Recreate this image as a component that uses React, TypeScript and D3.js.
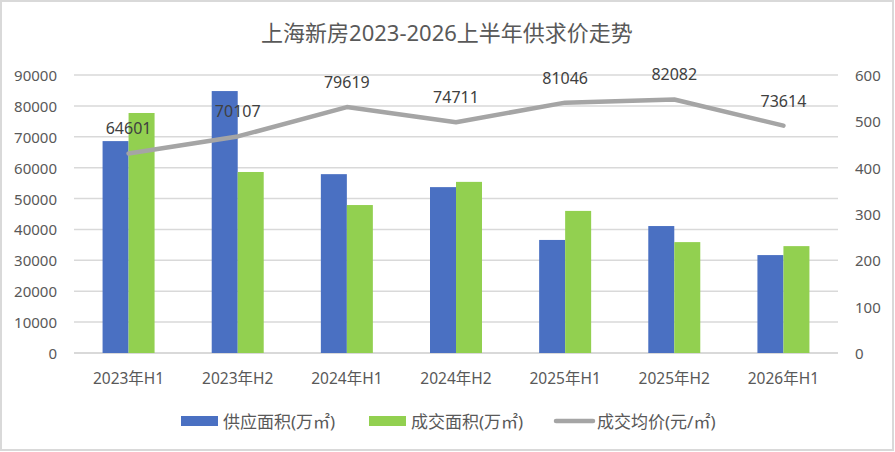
import * as d3 from 'd3';

const CATEGORIES = ['2023年H1', '2023年H2', '2024年H1', '2024年H2', '2025年H1', '2025年H2', '2026年H1'];
const SUPPLY = [68600, 84800, 57900, 53700, 36600, 41100, 31700];
const DEAL = [77700, 58600, 47900, 55400, 46000, 35900, 34600];
const PRICE = [64601, 70107, 79619, 74711, 81046, 82082, 73614];
const LEFT_TICKS = [0, 10000, 20000, 30000, 40000, 50000, 60000, 70000, 80000, 90000];
const RIGHT_TICKS = [0, 100, 200, 300, 400, 500, 600];

const TITLE = '上海新房2023-2026上半年供求价走势';
const LEGEND = [
  { label: '供应面积(万㎡)', color: '#4A70C2', kind: 'bar' },
  { label: '成交面积(万㎡)', color: '#92D050', kind: 'bar' },
  { label: '成交均价(元/㎡)', color: '#A5A5A5', kind: 'line' },
];

const W = 895;
const H = 452;
const FONT = "'Noto Sans', 'Noto Sans CJK SC', sans-serif";
const TEXT = '#595959';
const GRID = '#D9D9D9';

export default function App() {
  const plot = { left: 74, right: 838, top: 75, bottom: 353 };

  const x = d3.scaleBand<string>().domain(CATEGORIES).range([plot.left, plot.right]);
  const y = d3.scaleLinear().domain([0, 90000]).range([plot.bottom, plot.top]);
  const yR = d3.scaleLinear().domain([0, 600]).range([plot.bottom, plot.top]);
  const barW = 26;
  const cx = (c: string) => x(c)! + x.bandwidth() / 2;

  const line = d3
    .line<number>()
    .x((_, i) => cx(CATEGORIES[i]))
    .y((d) => y(d));

  const legendX = [181, 369, 554];

  return (
    <svg
      width={W}
      height={H}
      style={{ position: 'absolute', left: 0, top: 0, background: '#fff' }}
      fontFamily={FONT}
    >
      <rect x={1} y={1} width={W - 3} height={H - 3} fill="#fff" stroke={GRID} strokeWidth={2} />

      <text x={447} y={32} textAnchor="middle" dominantBaseline="central" fontSize={22} fill={TEXT}>
        {TITLE}
      </text>

      {LEFT_TICKS.map((t) => (
        <g key={t}>
          <line
            x1={plot.left}
            x2={plot.right}
            y1={y(t)}
            y2={y(t)}
            stroke={GRID}
            strokeWidth={t === 0 ? 2 : 1.5}
          />
          <text x={57} y={y(t)} textAnchor="end" dominantBaseline="central" fontSize={15} fill={TEXT}>
            {t}
          </text>
        </g>
      ))}

      {RIGHT_TICKS.map((t) => (
        <text key={t} x={855} y={yR(t)} dominantBaseline="central" fontSize={15} fill={TEXT}>
          {t}
        </text>
      ))}

      {CATEGORIES.map((c, i) => (
        <g key={c}>
          <rect x={cx(c) - barW} y={y(SUPPLY[i])} width={barW} height={y(0) - y(SUPPLY[i])} fill="#4A70C2" />
          <rect x={cx(c)} y={y(DEAL[i])} width={barW} height={y(0) - y(DEAL[i])} fill="#92D050" />
          <text x={cx(c)} y={378} textAnchor="middle" dominantBaseline="central" fontSize={15.5} fill={TEXT}>
            {c}
          </text>
        </g>
      ))}

      <path
        d={line(PRICE)!}
        fill="none"
        stroke="#A5A5A5"
        strokeWidth={4.5}
        strokeLinejoin="round"
        strokeLinecap="round"
      />

      {PRICE.map((v, i) => (
        <text
          key={i}
          x={cx(CATEGORIES[i])}
          y={y(v) - 25}
          textAnchor="middle"
          dominantBaseline="central"
          fontSize={16}
          fill="#404040"
        >
          {v}
        </text>
      ))}

      {LEGEND.map((l, i) => (
        <g key={l.label} transform={`translate(${legendX[i]},421)`}>
          {l.kind === 'bar' ? (
            <rect x={0} y={-5} width={37} height={10} fill={l.color} />
          ) : (
            <line x1={2} x2={39} y1={0} y2={0} stroke={l.color} strokeWidth={4.5} strokeLinecap="round" />
          )}
          <text x={l.kind === 'bar' ? 42 : 43} y={0} dominantBaseline="central" fontSize={17} fill={TEXT}>
            {l.label}
          </text>
        </g>
      ))}
    </svg>
  );
}
